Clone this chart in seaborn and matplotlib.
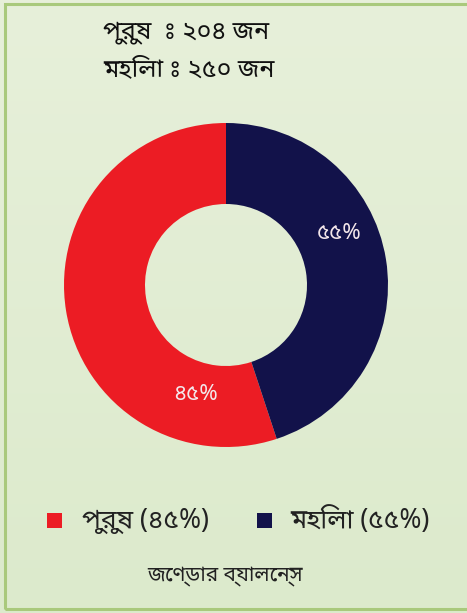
import numpy as np
import pandas as pd
import matplotlib
matplotlib.use("Agg")
import matplotlib.pyplot as plt
import seaborn as sns
from matplotlib.patches import Rectangle

# ---- data ----
categories = ["পুরুষ", "মহিলা"]
counts = [204, 250]
pct_labels = ["৪৫%", "৫৫%"]
legend_labels = ["পুরুষ (৪৫%)", "মহিলা (৫৫%)"]
# wedge sizes as drawn in the reference (red larger than navy)
wedge_values = [250, 204]
header_lines = ["পুরুষ  ঃ ২০৪ জন", "মহিলা ঃ ২৫০ জন"]
title_text = "জেণ্ডার ব্যালেন্স"

colors = ["#ec1c24", "#12124a"]

sns.set_theme(style="white")
plt.rcParams["font.family"] = ["Noto Sans Bengali", "DejaVu Sans"]

W, H = 467, 613
fig = plt.figure(figsize=(W / 100, H / 100), dpi=100)

# background gradient
bg = fig.add_axes([0, 0, 1, 1], zorder=0)
grad = np.linspace(0, 1, 256).reshape(-1, 1)
top = np.array([0.906, 0.941, 0.855])
bot = np.array([0.863, 0.918, 0.800])
img = top[None, None, :] * (1 - grad[:, :, None]) + bot[None, None, :] * grad[:, :, None]
bg.imshow(img, aspect="auto", extent=[0, 1, 0, 1])
bg.set_xlim(0, 1); bg.set_ylim(0, 1); bg.axis("off")
bg.add_patch(Rectangle((5 / W, 1 - 609 / H), (W - 2) / W, (609 - 4) / H,
                       fill=False, edgecolor="#a9c97c", linewidth=2.2))

# donut
cx, cy, r = 226, 285, 162
ax = fig.add_axes([(cx - r) / W, (H - cy - r) / H, 2 * r / W, 2 * r / H], zorder=1)
wedges, _ = ax.pie(wedge_values, colors=colors, startangle=90, counterclock=True,
                   radius=1.0, wedgeprops=dict(width=0.5, edgecolor="none"))
ax.set_xlim(-1, 1); ax.set_ylim(-1, 1); ax.set_aspect("equal"); ax.axis("off")

# data labels (positions as in reference)
label_pos = [(195.7, 0.70), (65.5, 0.77)]  # (clockwise angle from top, radius)
for (ang, rr), txt in zip(label_pos, pct_labels):
    a = np.deg2rad(ang)
    ax.text(rr * np.sin(a), rr * np.cos(a), txt, color="#f3e6ea", fontsize=16,
            ha="center", va="center")

# header text
for i, line in enumerate(header_lines):
    fig.text(103 / W, 1 - (32 + 38 * i) / H, line, fontsize=18, fontweight="bold",
             ha="left", va="center", color="#111111")

# legend
lx = [47, 257]
tx = [82, 290]
ly = 521
for i in range(2):
    fig.patches.append(Rectangle((lx[i] / W, 1 - (ly + 7) / H), 15 / W, 15 / H,
                                 transform=fig.transFigure, facecolor=colors[i],
                                 edgecolor="none", zorder=3))
    fig.text(tx[i] / W, 1 - ly / H, legend_labels[i], fontsize=19, ha="left",
             va="center", color="#222222")

fig.text(225 / W, 1 - 576 / H, title_text, fontsize=15, ha="center", va="center",
         color="#222222")

fig.savefig("out.png", dpi=100)
